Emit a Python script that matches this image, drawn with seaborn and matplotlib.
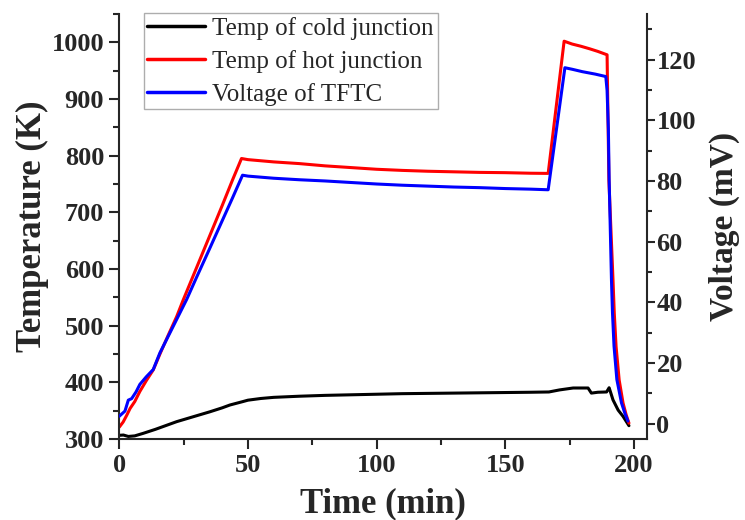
import matplotlib
matplotlib.use("Agg")
import matplotlib.pyplot as plt
import seaborn as sns
import numpy as np
from matplotlib.ticker import MultipleLocator

# ---- data ----
cold_t = [0, 1.6, 3.5, 6, 9.3, 14, 22.3, 30, 35.2, 40, 43, 48, 50, 55, 60, 70, 80, 90,
          100, 110, 120, 130, 140, 150, 160, 167, 171.1, 176.4, 182.2, 183.5, 186, 189.4,
          190.4, 191.9, 193.9, 195.8, 198.1]
cold_K = [306.5, 307, 304.5, 305.5, 310, 317, 330.6, 341, 348, 355, 360, 366, 368.5, 371.5,
          373.5, 375.5, 377, 378, 379, 380, 380.5, 381, 381.5, 382, 382.5, 383, 386.6, 390,
          390, 381, 382.5, 383, 390.5, 369, 351, 340, 323.5]

hot_t = [0, 1.5, 2.9, 4.2, 6, 8, 10.5, 13.2, 15.8, 19, 22.3, 24.9, 30, 35, 40, 44, 47.5,
         50, 60, 70, 80, 90, 100, 110, 120, 130, 140, 150, 160, 166.7, 172.9, 176, 179.5,
         182.9, 186, 189.6, 190.3, 191.9, 192.4, 193.1, 194.3, 195.8, 197, 198.1]
hot_K = [321, 330, 342, 354, 366, 384, 403, 422, 450, 483, 516, 546, 602, 657, 712, 757,
         795, 793, 789, 786, 782, 779, 776, 774, 772.5, 771.5, 770.5, 770, 769, 768.7,
         1002, 997, 993, 988.5, 984, 978, 757, 581, 522, 463, 404, 363.6, 343, 328]

volt_t = [0, 2.2, 3.5, 4.8, 6.5, 8, 10.5, 13.2, 15.8, 20, 26.2, 30, 35, 40, 44, 47.9, 50,
          60, 70, 80, 90, 100, 110, 120, 130, 140, 150, 160, 166.7, 173.2, 176, 180, 185,
          189.1, 189.6, 190.1, 190.4, 191.3, 191.7, 192.3, 193.4, 195.2, 196.5, 197.7]
volt_mV = [2.5, 4.2, 7.8, 8.3, 10.5, 13, 15.5, 17.9, 23.4, 30.5, 41, 48.2, 57.5, 66.9,
           74.4, 81.9, 81.6, 80.9, 80.4, 80, 79.5, 79, 78.6, 78.3, 78, 77.8, 77.5, 77.3,
           77.1, 117.3, 116.8, 116, 115.2, 114.4, 109.8, 97.1, 80.6, 47.6, 36.6, 25.6,
           14.6, 6.9, 3.5, 0.9]

labels = ["Temp of cold junction", "Temp of hot junction", "Voltage of TFTC"]

# ---- style ----
sns.set_style("ticks")
plt.rcParams['font.family'] = ['Liberation Serif', 'DejaVu Serif']
plt.rcParams['axes.linewidth'] = 1.5

fig = plt.figure(figsize=(7.45, 5.2), dpi=100)
ax = fig.add_axes([119.3/745, 1-439/520, (646.7-119.3)/745, (439-14)/520])
ax2 = ax.twinx()

lw = 2.2
sns.lineplot(x=cold_t, y=cold_K, ax=ax, color='black', lw=lw, sort=False,
             estimator=None, label=labels[0], legend=False)
sns.lineplot(x=hot_t, y=hot_K, ax=ax, color='#ff0000', lw=lw, sort=False,
             estimator=None, label=labels[1], legend=False)
sns.lineplot(x=volt_t, y=volt_mV, ax=ax2, color='#0000ff', lw=lw, sort=False,
             estimator=None, label=labels[2], legend=False)

ax.set_xlim(0, 205)
ax.set_ylim(300, 1050)
ax2.set_ylim(-5, 135)

ax.xaxis.set_major_locator(MultipleLocator(50))
ax.xaxis.set_minor_locator(MultipleLocator(25))
ax.yaxis.set_major_locator(MultipleLocator(100))
ax.yaxis.set_minor_locator(MultipleLocator(50))
ax2.yaxis.set_major_locator(MultipleLocator(20))
ax2.yaxis.set_minor_locator(MultipleLocator(10))

for a in (ax, ax2):
    a.spines['top'].set_visible(False)
    for s in a.spines.values():
        s.set_linewidth(1.5)
ax.spines['right'].set_visible(False)
ax2.spines['left'].set_visible(False)
ax2.spines['bottom'].set_visible(False)

ax.tick_params(axis='both', which='major', direction='out', length=7, width=1.5,
               labelsize=19, pad=4)
ax.tick_params(axis='both', which='minor', direction='out', length=4, width=1.5)
ax2.tick_params(axis='y', which='major', direction='out', length=5.5, width=1.5,
                labelsize=19, pad=1.5)
ax2.tick_params(axis='y', which='minor', direction='out', length=3.5, width=1.5)

for t in ax.get_xticklabels() + ax.get_yticklabels() + ax2.get_yticklabels():
    t.set_fontweight('bold')

ax.set_xlabel("Time (min)", fontsize=25, fontweight='bold', labelpad=7)
ax.set_ylabel("Temperature (K)", fontsize=25, fontweight='bold', labelpad=2)
ax2.set_ylabel("Voltage (mV)", fontsize=24, fontweight='bold', labelpad=9)

handles = ax.get_lines()[:2] + ax2.get_lines()[:1]
leg = fig.legend(handles, labels, loc='upper left',
                 bbox_to_anchor=(143.5/745, 1-13/520), bbox_transform=fig.transFigure,
                 fontsize=18, frameon=True, fancybox=False, borderpad=0.15,
                 handlelength=2.3, handletextpad=0.3, labelspacing=0.4,
                 borderaxespad=0)
leg.get_frame().set_edgecolor('#999999')
leg.get_frame().set_linewidth(1.0)
for ln in leg.get_lines():
    ln.set_linewidth(2.5)

fig.savefig("out.png", dpi=100)
